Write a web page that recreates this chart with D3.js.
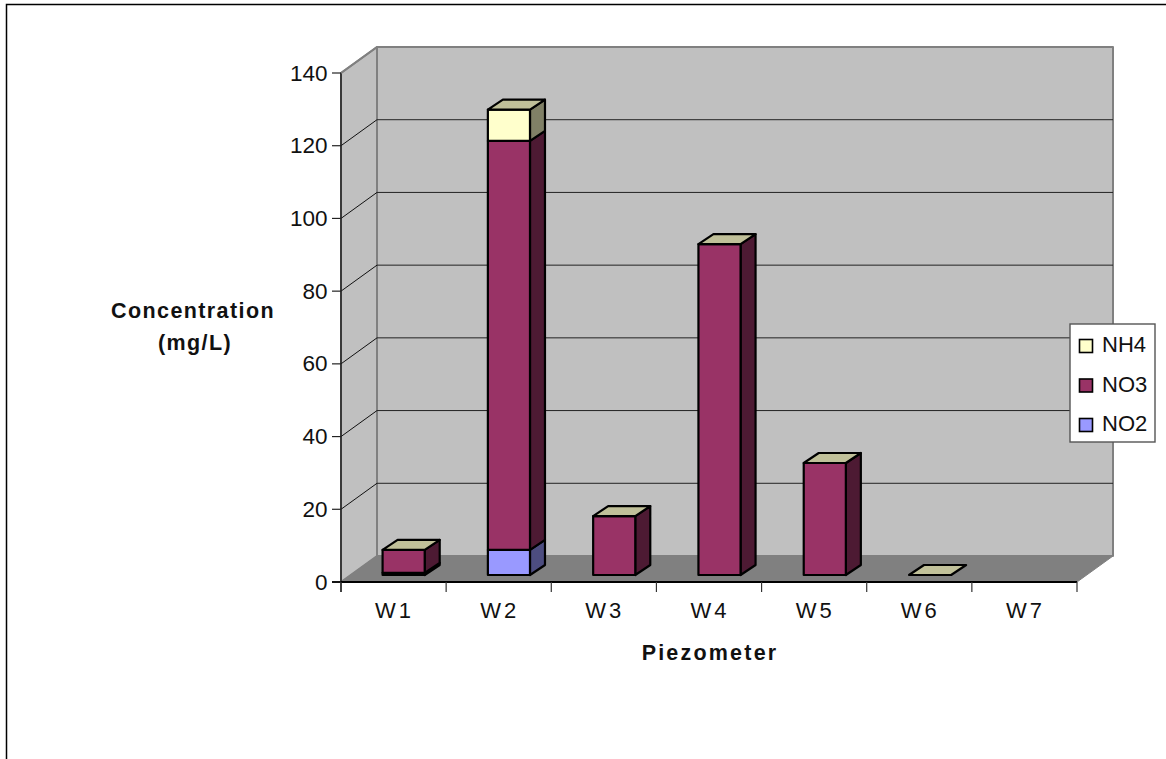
<!DOCTYPE html>
<html>
<head>
<meta charset="utf-8">
<script src="https://cdn.jsdelivr.net/npm/d3@7"></script>
<style>
html,body{margin:0;padding:0;background:#fff}
svg{display:block}
text{font-family:"Liberation Sans",Arial,sans-serif;fill:#111}
</style>
</head>
<body>
<svg id="chart" width="1166" height="759"></svg>
<script>
// Nitrogen species measured at each piezometer (mg/L); W7 has no sample
const piezometers = ["W1","W2","W3","W4","W5","W6","W7"];
const no2 = [0.6, 6.9, 0, 0, 0, 0, null];
const no3 = [6.3, 112.5, 16.2, 91, 30.8, 0, null];
const nh4 = [0, 8.6, 0, 0, 0, 0, null];
const seriesNames = ["NO2","NO3","NH4"];
const seriesFront = ["#9999FF","#993366","#FFFFCC"];
const seriesSide = ["#4D4D80","#4D1A33","#808066"];
const capColour = "#C0C099";
const yTicks = [0,20,40,60,80,100,120,140];

const svg = d3.select("#chart");
const depthX = 36, depthY = -26;     // floor depth of the 3D box
const barDepthX = 15, barDepthY = -10;   // depth of a single column
const barShiftX = 10, barShiftY = -7;    // columns sit midway along the floor

const x = d3.scaleBand().domain(piezometers).range([341,1078]).paddingInner(0.6).paddingOuter(0.3);
const tickX = d3.scaleLinear().domain([0,piezometers.length]).range([341,1077]);
const y = d3.scaleLinear().domain([0,140]).range([582,73]);

const poly = (pts, fill, stroke, w) => svg.append("polygon")
  .attr("points", pts.map(p=>p.join(",")).join(" "))
  .attr("fill", fill).attr("stroke", stroke).attr("stroke-width", w).attr("stroke-linejoin","round");
const line = (a,b,stroke,w) => svg.append("line")
  .attr("x1",a[0]).attr("y1",a[1]).attr("x2",b[0]).attr("y2",b[1])
  .attr("stroke",stroke).attr("stroke-width",w);

// Outer chart frame, open on the right and bottom
svg.append("path").attr("d","M6.5,759V4.5H1166").attr("fill","none").attr("stroke","#000").attr("stroke-width",1.5);

const x0 = 341, x1 = 1077, yb = y(0), yt = y(140);

// Back wall, side wall and floor
poly([[x0+depthX,yt+depthY],[x1+depthX,yt+depthY],[x1+depthX,yb+depthY],[x0+depthX,yb+depthY]],"#C0C0C0","#808080",2);
poly([[x0,yt],[x0+depthX,yt+depthY],[x0+depthX,yb+depthY],[x0,yb]],"#C0C0C0","#808080",2);
poly([[x0,yb],[x0+depthX,yb+depthY],[x1+depthX,yb+depthY],[x1,yb]],"#808080","#808080",1);

// Gridlines wrap from the side wall onto the back wall
yTicks.filter(t=>t>0 && t<140).forEach(t=>{
  line([x0,y(t)],[x0+depthX,y(t)+depthY],"#111",1);
  line([x0+depthX,y(t)+depthY],[x1+depthX,y(t)+depthY],"#222",1);
});

// Front axes
line([x0,yt],[x0,yb+10],"#222",1.5);
line([x0-9,yb],[x1,yb],"#000",1.8);
line([x0,yt],[x0+depthX,yt+depthY],"#808080",2);

// Value axis ticks and labels
yTicks.forEach(t=>{
  line([x0-9,y(t)],[x0,y(t)],"#222",1.2);
  svg.append("text").attr("x",x0-13.5).attr("y",y(t)+7.5).attr("text-anchor","end")
    .attr("font-size",22.5).text(t);
});

// Category ticks and labels
d3.range(piezometers.length+1).forEach(i=>{
  line([tickX(i),yb],[tickX(i),yb+10],"#333",1.2);
});
piezometers.forEach((p,i)=>{
  svg.append("text").attr("x",(tickX(i)+tickX(i+1))/2+1).attr("y",618).attr("text-anchor","middle")
    .attr("font-size",22).attr("letter-spacing",3).text(p);
});

// Stacked columns, bottom segment first
const bw = x.bandwidth();
piezometers.forEach((p,i)=>{
  if (no3[i] === null) return;
  const left = x(p)+barShiftX;
  let base = 0;
  [no2[i],no3[i],nh4[i]].forEach((v,s)=>{
    if (v <= 0) return;
    const yb0 = y(base)+barShiftY, yt0 = y(base+v)+barShiftY;
    poly([[left+bw,yt0],[left+bw+barDepthX,yt0+barDepthY],[left+bw+barDepthX,yb0+barDepthY],[left+bw,yb0]],seriesSide[s],"#000",2.2);
    poly([[left,yt0],[left+bw,yt0],[left+bw,yb0],[left,yb0]],seriesFront[s],"#000",2.2);
    base += v;
  });
  const topY = y(base)+barShiftY;
  poly([[left,topY],[left+barDepthX,topY+barDepthY],[left+bw+barDepthX,topY+barDepthY],[left+bw,topY]],capColour,"#000",2.2);
});

// Axis titles
svg.append("text").attr("x",193).attr("y",318).attr("text-anchor","middle")
  .attr("font-size",21.5).attr("font-weight","bold").attr("letter-spacing",1.4).text("Concentration");
svg.append("text").attr("x",195).attr("y",350).attr("text-anchor","middle")
  .attr("font-size",21.5).attr("font-weight","bold").attr("letter-spacing",1.4).text("(mg/L)");
svg.append("text").attr("x",710).attr("y",660).attr("text-anchor","middle")
  .attr("font-size",21.5).attr("font-weight","bold").attr("letter-spacing",2.2).text("Piezometer");

// Legend, top entry is the top of the stack
svg.append("rect").attr("x",1070).attr("y",324).attr("width",85).attr("height",118)
  .attr("fill","#fff").attr("stroke","#555").attr("stroke-width",1.4);
const legendY = d3.scalePoint().domain(["NH4","NO3","NO2"]).range([346,425]);
["NH4","NO3","NO2"].forEach(n=>{
  const s = seriesNames.indexOf(n);
  svg.append("rect").attr("x",1079.5).attr("y",legendY(n)-6.5).attr("width",13).attr("height",13)
    .attr("fill",seriesFront[s]).attr("stroke","#000").attr("stroke-width",1.6);
  svg.append("text").attr("x",1102).attr("y",legendY(n)+6).attr("font-size",22).text(n);
});
</script>
</body>
</html>
